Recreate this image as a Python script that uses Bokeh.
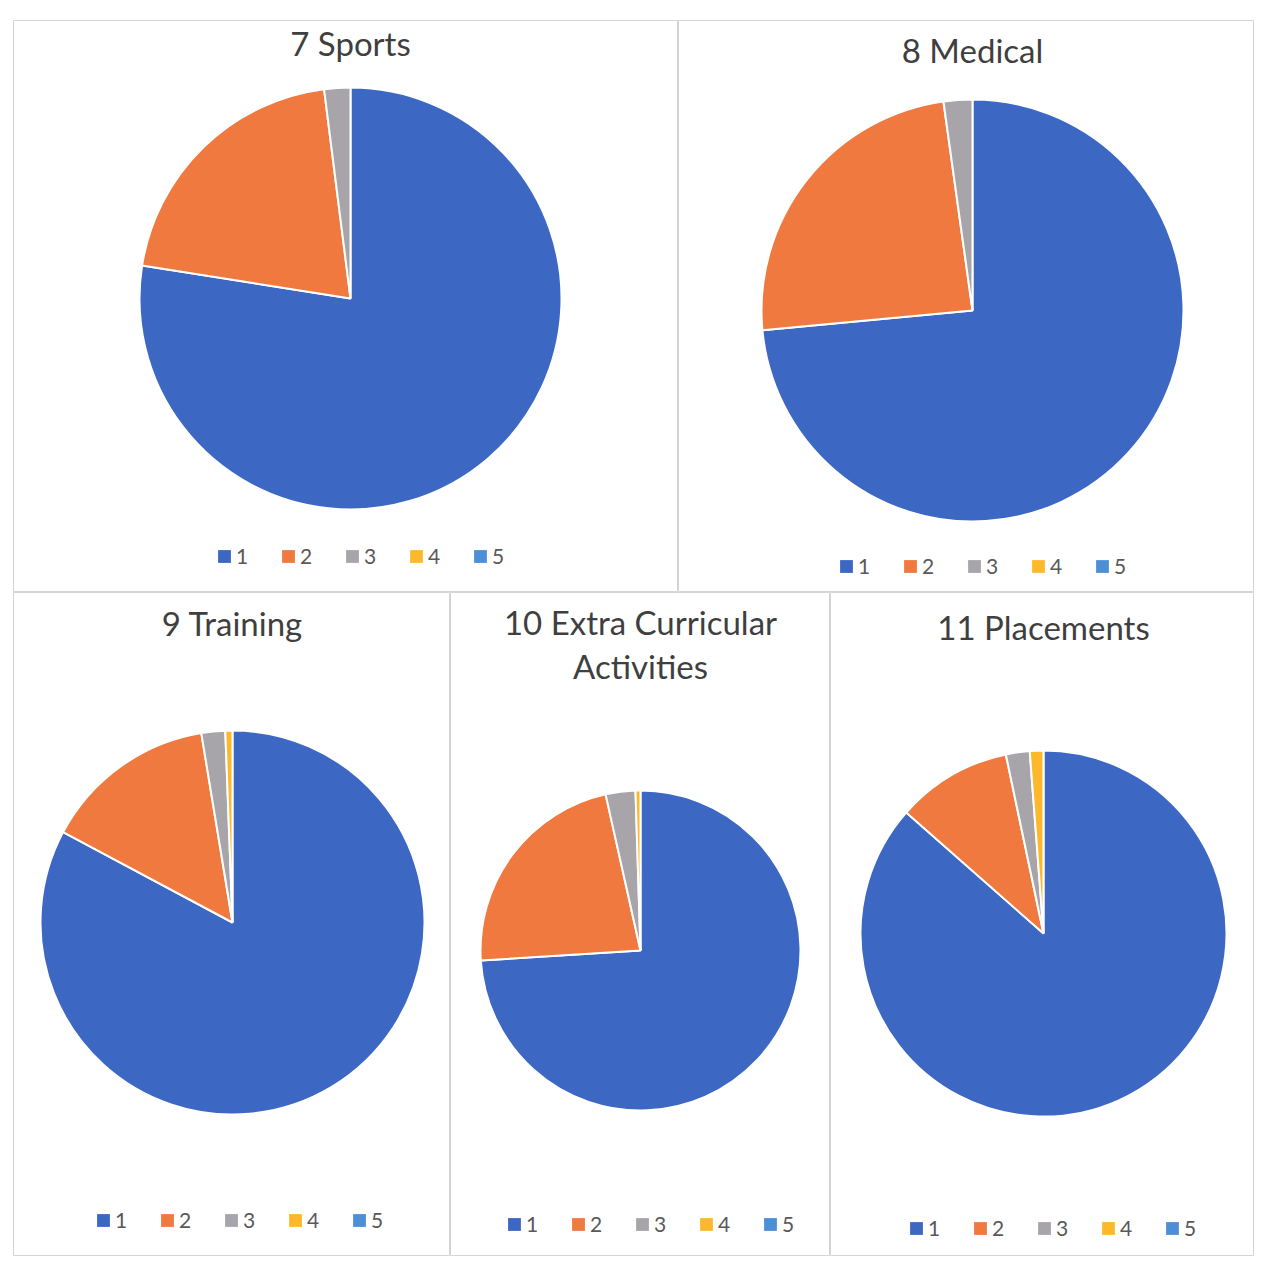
import math
from bokeh.plotting import figure
from bokeh.models import ColumnDataSource, Legend, LegendItem, Label, Spacer
from bokeh.layouts import row, column
from bokeh.embed import file_html
from bokeh.resources import INLINE

categories = ["1", "2", "3", "4", "5"]
colors = ["#3C67C3", "#F0793F", "#A7A5A9", "#FDB92B", "#4D8FD6"]

sports = [77.5, 20.5, 2.0, 0.0, 0.0]
medical = [73.5, 24.3, 2.2, 0.0, 0.0]
training = [82.8, 14.6, 2.0, 0.6, 0.0]
extra = [74.0, 22.5, 3.0, 0.5, 0.0]
placements = [86.5, 10.2, 2.1, 1.2, 0.0]

FONT = "Lato"
NAN = float("nan")


def make_panel(title_lines, values, w, h, cx, cy, r, title_y, leg_x, leg_y):
    p = figure(width=w, height=h, x_range=(0, w), y_range=(0, h),
               output_backend="svg", toolbar_location=None,
               min_border=0, tools="")
    p.axis.visible = False
    p.grid.visible = False
    p.outline_line_color = "#d4d4d4"
    p.outline_line_width = 1
    p.background_fill_color = "white"
    p.border_fill_color = "white"

    total = sum(values)
    starts, ends, cats, cols, vals = [], [], [], [], []
    cum = 0.0
    for c, col, v in zip(categories, colors, values):
        s = math.pi / 2 - 2 * math.pi * cum / total
        cum += v
        e = math.pi / 2 - 2 * math.pi * cum / total
        if v > 0:
            starts.append(s)
            ends.append(e)
            cats.append(c)
            cols.append(col)
            vals.append(v)
    src = ColumnDataSource(dict(cat=cats, val=vals, start=starts,
                                end=ends, color=cols))
    p.wedge(x=cx, y=cy, radius=r, start_angle="start", end_angle="end",
            direction="clock", fill_color="color", line_color="white",
            line_width=2, source=src)

    # legend proxy (not drawn on the plot area)
    n = len(categories)
    lsrc = ColumnDataSource(dict(cat=categories, color=colors,
                                 l=[NAN] * n, r=[NAN] * n,
                                 t=[NAN] * n, b=[NAN] * n))
    lrend = p.quad(left="l", right="r", top="t", bottom="b",
                   fill_color="color", line_color=None, source=lsrc)

    for i, t in enumerate(title_lines):
        p.add_layout(Label(x=cx, y=title_y - i * 44, text=t,
                           text_font=FONT, text_font_size="33px",
                           text_color="#3f3f3f", text_align="center",
                           text_baseline="middle"))

    items = [LegendItem(label=c, renderers=[lrend], index=i)
             for i, c in enumerate(categories)]
    leg = Legend(items=items, orientation="horizontal", location=(leg_x, leg_y),
                 glyph_width=16, glyph_height=16, label_standoff=4,
                 spacing=24, padding=0, margin=0,
                 label_text_font=FONT, label_text_font_size="21px",
                 label_text_color="#595959", border_line_color=None,
                 background_fill_alpha=0)
    p.add_layout(leg)
    return p


p1 = make_panel(["7 Sports"], sports, 665, 572, 337, 294, 211, 550, 203, 24)
p2 = make_panel(["8 Medical"], medical, 576, 572, 294, 282, 211, 543, 160, 14)
p3 = make_panel(["9 Training"], training, 437, 664, 219, 334, 192, 634, 82, 24)
p4 = make_panel(["10 Extra Curricular", "Activities"], extra, 380, 664,
                190, 306, 160, 635, 56, 20)
p5 = make_panel(["11 Placements"], placements, 424, 664, 213, 323, 183, 630, 78, 16)

layout = column(Spacer(height=20),
                row(Spacer(width=13), p1, p2),
                row(Spacer(width=13), p3, p4, p5))

open("out.html", "w").write(file_html(layout, INLINE))
